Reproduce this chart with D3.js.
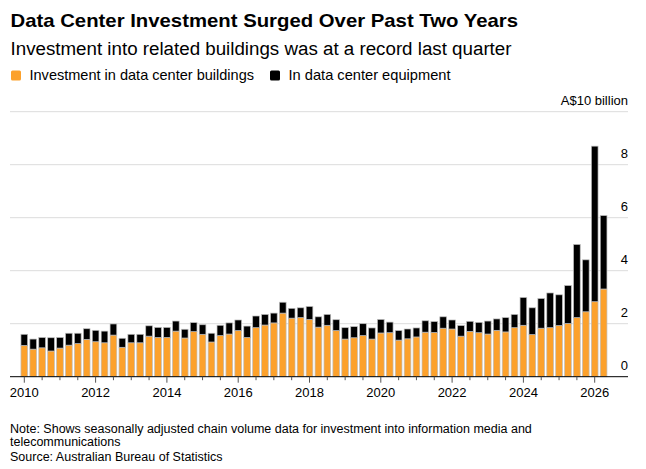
<!DOCTYPE html>
<html lang="en">
<head>
<meta charset="utf-8">
<title>Data Center Investment</title>
<script src="https://d3js.org/d3.v7.min.js"></script>
<style>
  body { margin: 0; background: #fff; }
  text { font-family: "Liberation Sans", Arial, Helvetica, sans-serif; fill: #000; }
  .grid line { stroke: #dcdcdc; stroke-width: 1px; }
  .bar rect { stroke: #bdbdbd; stroke-width: 0.7px; }
</style>
</head>
<body>
<svg width="646" height="469"></svg>
<script>
// quarters, 2010 Q1 .. 2026 Q2
var quarters = [
  "2010Q1","2010Q2","2010Q3","2010Q4","2011Q1","2011Q2","2011Q3","2011Q4",
  "2012Q1","2012Q2","2012Q3","2012Q4","2013Q1","2013Q2","2013Q3","2013Q4",
  "2014Q1","2014Q2","2014Q3","2014Q4","2015Q1","2015Q2","2015Q3","2015Q4",
  "2016Q1","2016Q2","2016Q3","2016Q4","2017Q1","2017Q2","2017Q3","2017Q4",
  "2018Q1","2018Q2","2018Q3","2018Q4","2019Q1","2019Q2","2019Q3","2019Q4",
  "2020Q1","2020Q2","2020Q3","2020Q4","2021Q1","2021Q2","2021Q3","2021Q4",
  "2022Q1","2022Q2","2022Q3","2022Q4","2023Q1","2023Q2","2023Q3","2023Q4",
  "2024Q1","2024Q2","2024Q3","2024Q4","2025Q1","2025Q2","2025Q3","2025Q4",
  "2026Q1","2026Q2"
];

// A$10 billion
var buildings = [
  1.18,1.04,1.09,0.97,1.08,1.19,1.25,1.41,
  1.32,1.28,1.57,1.11,1.28,1.28,1.53,1.48,
  1.48,1.72,1.46,1.70,1.60,1.31,1.55,1.61,
  1.74,1.48,1.85,1.95,2.03,2.40,2.21,2.23,
  2.16,1.87,1.94,1.74,1.42,1.47,1.55,1.42,
  1.65,1.66,1.38,1.43,1.50,1.68,1.67,1.83,
  1.80,1.53,1.71,1.66,1.61,1.75,1.69,1.85,
  1.94,1.59,1.83,1.85,1.93,2.01,2.23,2.45,
  2.83,3.31
];

var equipment = [
  0.42,0.38,0.39,0.50,0.40,0.45,0.39,0.40,
  0.43,0.44,0.42,0.34,0.32,0.32,0.39,0.38,
  0.38,0.38,0.33,0.34,0.36,0.33,0.39,0.42,
  0.40,0.43,0.44,0.40,0.37,0.41,0.37,0.37,
  0.49,0.39,0.41,0.41,0.43,0.42,0.45,0.42,
  0.51,0.40,0.36,0.37,0.34,0.43,0.41,0.43,
  0.34,0.40,0.38,0.39,0.49,0.43,0.54,0.50,
  1.05,1.01,1.12,1.31,1.16,1.43,2.76,1.96,
  5.87,2.77
];

var yTicks = [0, 2, 4, 6, 8, 10];
var xYearTicks = [2010, 2012, 2014, 2016, 2018, 2020, 2022, 2024, 2026];
var seriesNames = ["Investment in data center buildings", "In data center equipment"];
var colors = ["#fca12c", "#000000"];

var svg = d3.select("svg");
var left = 10, right = 628;

var x = d3.scaleLinear().domain([2010, 2026]).range([24.3, 594.7]);
var y = d3.scaleLinear().domain([0, 10]).range([376.7, 111.7]);

function qTime(q) {
  return +q.slice(0, 4) + (+q.slice(5) - 1) / 4;
}

var rows = quarters.map(function(q, i) {
  return { t: qTime(q), buildings: buildings[i], equipment: equipment[i] };
});

// titles (reference font runs wider than Liberation, so stretch to fit)
svg.append("text").attr("x", 10.5).attr("y", 27.3)
  .attr("textLength", 507.5).attr("lengthAdjust", "spacingAndGlyphs")
  .style("font-size", "19px").style("font-weight", "bold")
  .text("Data Center Investment Surged Over Past Two Years");
svg.append("text").attr("x", 10.5).attr("y", 55)
  .attr("textLength", 501).attr("lengthAdjust", "spacingAndGlyphs")
  .style("font-size", "18px")
  .text("Investment into related buildings was at a record last quarter");

// legend
var legendX = [11, 270];
var legendLen = [224.5, 162];
seriesNames.forEach(function(name, i) {
  var g = svg.append("g").attr("transform", "translate(" + legendX[i] + ",70.5)");
  g.append("rect").attr("width", 10).attr("height", 10).attr("rx", 1.5)
    .attr("fill", colors[i]);
  g.append("text").attr("x", 18.5).attr("y", 9.7)
    .attr("textLength", legendLen[i]).attr("lengthAdjust", "spacingAndGlyphs")
    .style("font-size", "14.5px").text(name);
});

// gridlines + y labels
var grid = svg.append("g").attr("class", "grid");
grid.selectAll("line").data(yTicks.filter(function(d) { return d > 0; }))
  .enter().append("line")
  .attr("x1", left).attr("x2", right)
  .attr("y1", function(d) { return y(d); })
  .attr("y2", function(d) { return y(d); });

svg.append("g").selectAll("text").data(yTicks).enter().append("text")
  .attr("x", right).attr("y", function(d) { return y(d) - 6.5; })
  .attr("text-anchor", "end")
  .style("font-size", "13px")
  .text(function(d) { return d === 10 ? "A$10 billion" : d; });

// stacked bars
var stack = d3.stack().keys(["buildings", "equipment"]);
var stacked = stack(rows);
var barW = (x(2010.25) - x(2010)) * 0.75;

svg.append("g").attr("class", "bar").selectAll("g").data(stacked).enter().append("g")
  .attr("fill", function(d, i) { return colors[i]; })
  .selectAll("rect").data(function(d) { return d; }).enter().append("rect")
  .attr("x", function(d) { return x(d.data.t) - barW / 2; })
  .attr("width", barW)
  .attr("y", function(d) { return y(d[1]); })
  .attr("height", function(d) { return y(d[0]) - y(d[1]); });

// x axis
svg.append("line").attr("x1", left).attr("x2", right)
  .attr("y1", y(0)).attr("y2", y(0))
  .attr("stroke", "#000").attr("stroke-width", 1);

var halfYears = d3.range(2010, 2026.01, 0.5);
svg.append("g").selectAll("line").data(halfYears).enter().append("line")
  .attr("x1", function(d) { return x(d); }).attr("x2", function(d) { return x(d); })
  .attr("y1", y(0))
  .attr("y2", function(d) { return y(0) + (xYearTicks.indexOf(d) >= 0 ? 6 : 3.5); })
  .attr("stroke", "#555").attr("stroke-width", 1);

svg.append("g").selectAll("text").data(xYearTicks).enter().append("text")
  .attr("x", function(d) { return x(d); }).attr("y", 396.5)
  .attr("text-anchor", "middle")
  .style("font-size", "13px")
  .text(function(d) { return d; });

// footnotes
var notes = [
  "Note: Shows seasonally adjusted chain volume data for investment into information media and",
  "telecommunications",
  "Source: Australian Bureau of Statistics"
];
var noteY = [433, 445.5, 461];
svg.append("g").selectAll("text").data(notes).enter().append("text")
  .attr("x", 10).attr("y", function(d, i) { return noteY[i]; })
  .style("font-size", "12.5px")
  .text(function(d) { return d; });
</script>
</body>
</html>
